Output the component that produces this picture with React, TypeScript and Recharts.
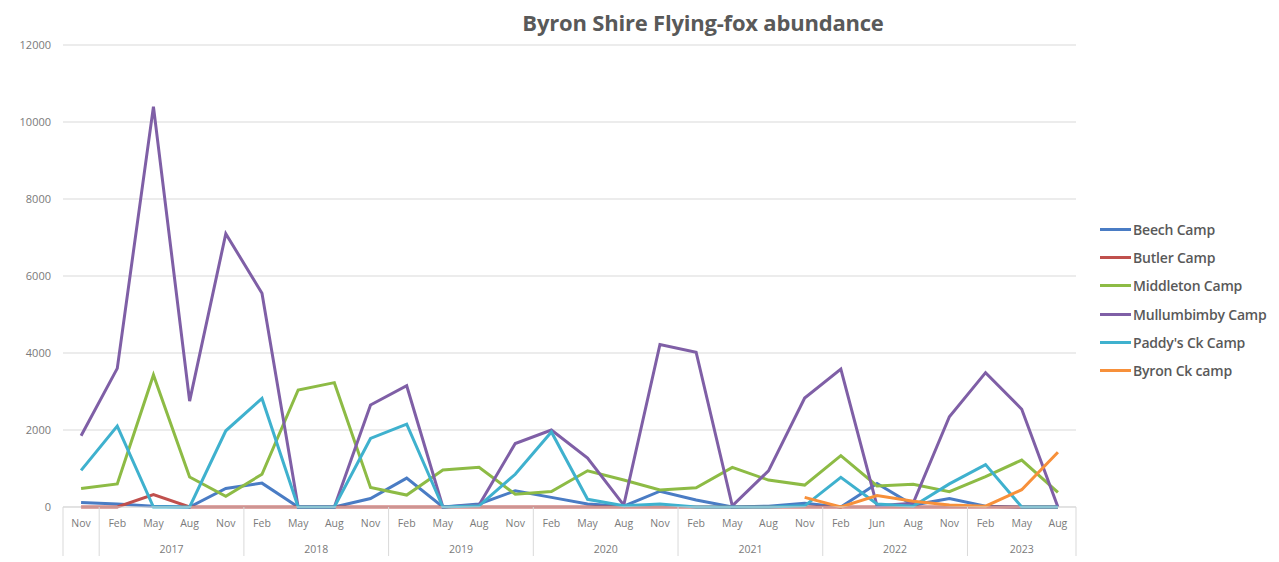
import React from 'react';
import { LineChart, Line, XAxis, YAxis, CartesianGrid } from 'recharts';

const months = ['Nov', 'Feb', 'May', 'Aug', 'Nov', 'Feb', 'May', 'Aug', 'Nov', 'Feb', 'May', 'Aug', 'Nov', 'Feb', 'May', 'Aug', 'Nov', 'Feb', 'May', 'Aug', 'Nov', 'Feb', 'Jun', 'Aug', 'Nov', 'Feb', 'May', 'Aug'];
const yearLabels = ['', '2017', '2018', '2019', '2020', '2021', '2022', '2023'];
const yearStarts = [0, 1, 5, 9, 13, 17, 21, 25];
const yTicks = [0, 2000, 4000, 6000, 8000, 10000, 12000];

const beech = [120, 80, 20, 0, 480, 620, 0, 0, 220, 750, 0, 80, 420, 250, 80, 20, 410, 180, 0, 20, 100, 0, 610, 50, 220, 20, 0, 0];
const butler = [0, 0, 320, 0, 0, 0, 0, 0, 0, 0, 0, 0, 0, 0, 0, 0, 0, 0, 0, 0, 0, 0, 0, 0, 0, 0, 0, 0];
const middleton = [480, 600, 3430, 780, 280, 850, 3040, 3230, 510, 310, 960, 1030, 330, 400, 940, 700, 440, 500, 1030, 700, 570, 1335, 545, 590, 400, 790, 1220, 380];
const mullumbimby = [1850, 3600, 10400, 2750, 7100, 5550, 0, 0, 2650, 3150, 0, 50, 1650, 2000, 1270, 50, 4220, 4020, 30, 940, 2830, 3580, 30, 100, 2345, 3490, 2540, 0];
const paddys = [950, 2100, 0, 0, 1980, 2820, 0, 0, 1780, 2150, 0, 30, 850, 1950, 200, 30, 80, 0, 0, 0, 30, 770, 80, 20, 600, 1100, 0, 0];
const byronCk = [null, null, null, null, null, null, null, null, null, null, null, null, null, null, null, null, null, null, null, null, 250, 0, 300, 150, 50, 20, 450, 1420];

const seriesNames = ['Beech Camp', 'Butler Camp', 'Middleton Camp', 'Mullumbimby Camp', "Paddy's Ck Camp", 'Byron Ck camp'];
const seriesKeys = ['beech', 'butler', 'middleton', 'mullumbimby', 'paddys', 'byronCk'];
const seriesColors = ['#4A7CC4', '#C0504D', '#8DBB45', '#7F5FA6', '#3FB1CE', '#F7903A'];
const seriesValues = [beech, butler, middleton, mullumbimby, paddys, byronCk];

const data = months.map((m, i) => {
  const row: any = { month: m };
  seriesKeys.forEach((k, s) => { row[k] = seriesValues[s][i]; });
  return row;
});

const W = 1279;
const H = 562;
const PLOT_LEFT = 63;
const PLOT_RIGHT = 1076;
const PLOT_TOP = 45;
const PLOT_BOTTOM = 507;
const BAND = (PLOT_RIGHT - PLOT_LEFT) / months.length;
const FONT = '"Open Sans", "DejaVu Sans", sans-serif';
const GRID = '#d9d9d9';

const MonthYearTick = (props: any) => {
  const { x, y, payload, index } = props;
  const g = yearStarts.indexOf(index);
  const isLast = index === months.length - 1;
  let groupCount = 0;
  if (g >= 0) {
    const next = g + 1 < yearStarts.length ? yearStarts[g + 1] : months.length;
    groupCount = next - index;
  }
  const left = x - BAND / 2;
  return (
    <g>
      <text x={x} y={y + 20} textAnchor="middle" fontSize={10.5} fill="#7a7a7a" fontFamily={FONT}>
        {payload.value}
      </text>
      {g >= 0 && <line x1={left} x2={left} y1={y} y2={y + 49} stroke={GRID} strokeWidth={1} />}
      {g >= 0 && yearLabels[g] && (
        <text x={left + (groupCount * BAND) / 2} y={y + 46} textAnchor="middle" fontSize={10.5} fill="#7a7a7a" fontFamily={FONT}>
          {yearLabels[g]}
        </text>
      )}
      {isLast && <line x1={x + BAND / 2} x2={x + BAND / 2} y1={y} y2={y + 49} stroke={GRID} strokeWidth={1} />}
    </g>
  );
};

const ChartLegend = () => (
  <div style={{ position: 'absolute', left: 1100, top: 215 }}>
    {seriesNames.map((name, s) => (
      <div key={name} style={{ display: 'flex', alignItems: 'center', height: 28.3 }}>
        <div style={{ width: 31, height: 3, background: seriesColors[s], marginRight: 2 }} />
        <span style={{ fontFamily: FONT, fontSize: 14, fontWeight: 600, color: '#595959', whiteSpace: 'nowrap', letterSpacing: -0.2 }}>
          {name}
        </span>
      </div>
    ))}
  </div>
);

export default function App() {
  return (
    <div style={{ position: 'absolute', left: 0, top: 0, width: W, height: H, background: '#ffffff' }}>
      <div
        style={{
          position: 'absolute',
          left: 403,
          width: 600,
          top: 6,
          textAlign: 'center',
          fontFamily: FONT,
          fontWeight: 700,
          fontSize: 22,
          color: '#595959',
          lineHeight: '32px',
          letterSpacing: -0.2,
        }}
      >
        Byron Shire Flying-fox abundance
      </div>
      <LineChart
        width={W}
        height={H}
        data={data}
        margin={{ top: PLOT_TOP, right: W - PLOT_RIGHT, bottom: 0, left: 0 }}
      >
        <CartesianGrid vertical={false} stroke={GRID} strokeWidth={1.2} />
        <XAxis
          dataKey="month"
          interval={0}
          padding={{ left: BAND / 2, right: BAND / 2 }}
          tickSize={0}
          tickMargin={0}
          tick={<MonthYearTick />}
          axisLine={{ stroke: GRID }}
          tickLine={false}
          height={H - PLOT_BOTTOM}
        />
        <YAxis
          width={PLOT_LEFT}
          domain={[0, 12000]}
          ticks={yTicks}
          tickSize={0}
          tickMargin={12}
          axisLine={false}
          tickLine={false}
          tick={{ fontSize: 11, fill: '#7a7a7a', fontFamily: FONT }}
        />
        {seriesKeys.map((k, s) => (
          <Line
            key={k}
            type="linear"
            dataKey={k}
            name={seriesNames[s]}
            stroke={seriesColors[s]}
            strokeWidth={3}
            dot={false}
            activeDot={false}
            isAnimationActive={false}
            connectNulls={false}
          />
        ))}
      </LineChart>
      <ChartLegend />
    </div>
  );
}
